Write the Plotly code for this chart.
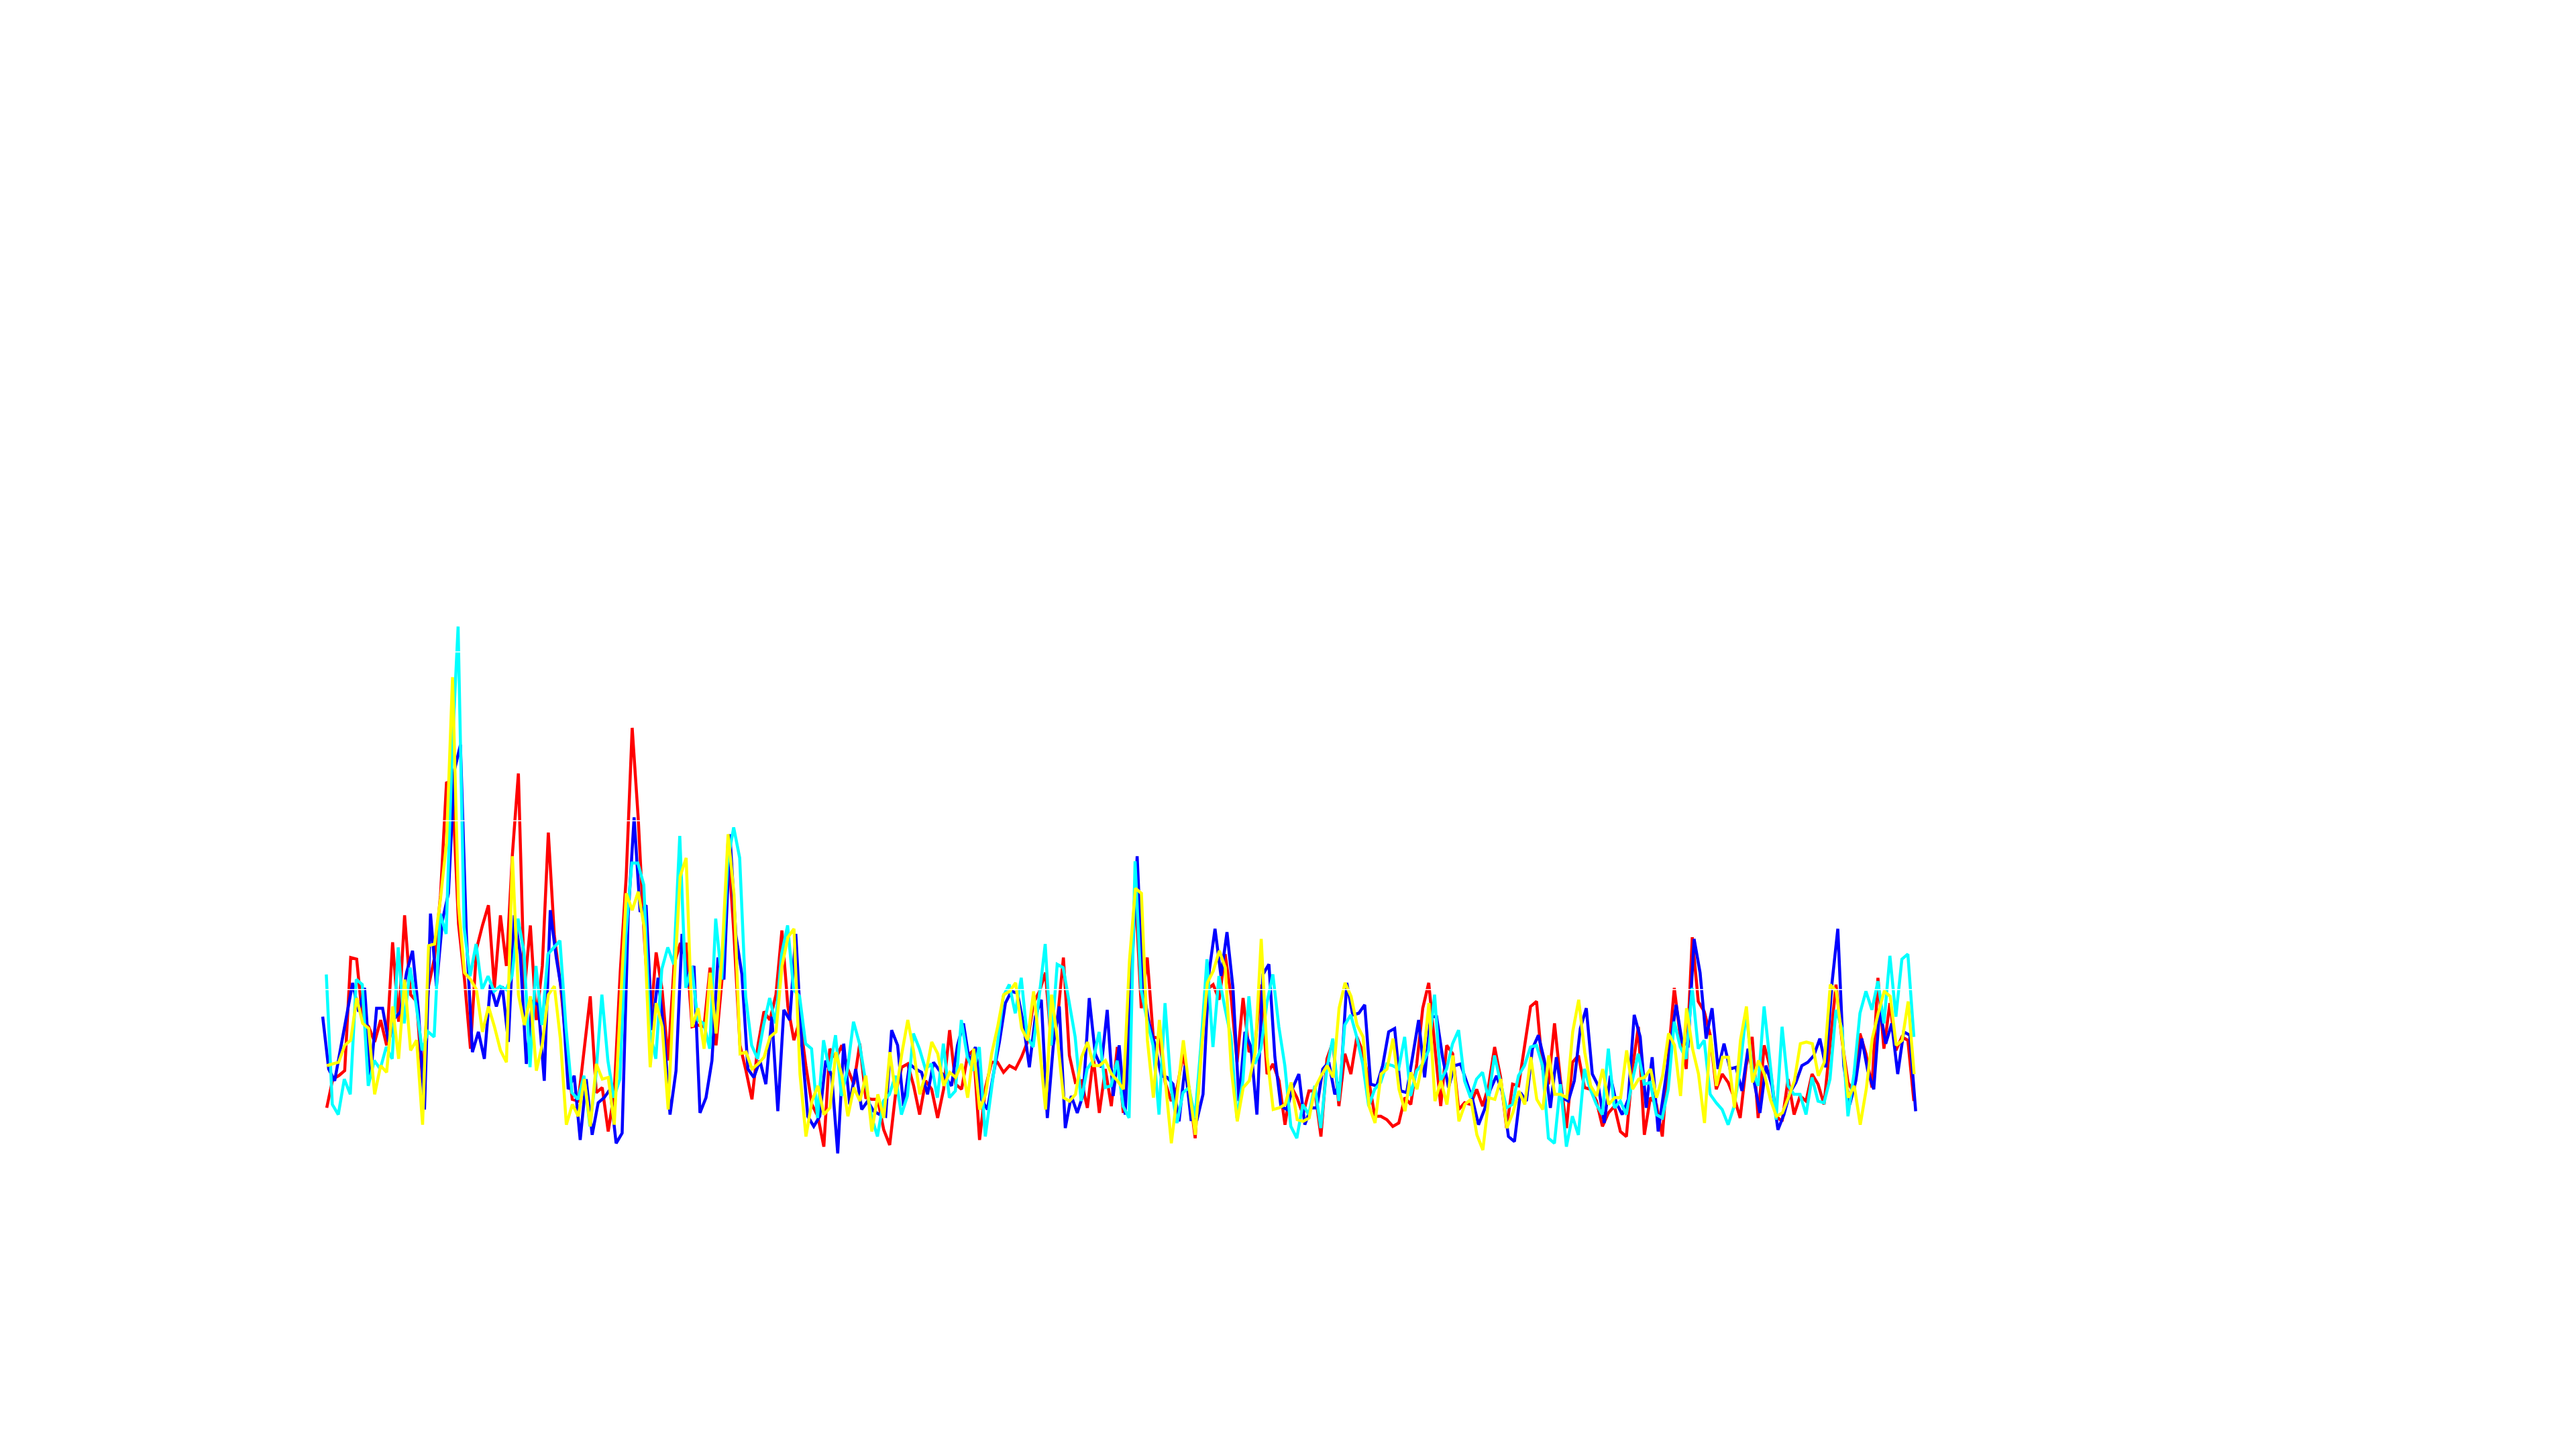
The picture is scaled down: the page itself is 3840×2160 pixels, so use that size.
import numpy as np
import plotly.graph_objects as go

red = [3.0,4.7,4.9,5.2,11.9,11.8,8.2,7.8,6.9,8.2,6.7,12.8,8.1,14.4,9.7,9.3,4.5,10.2,11.9,15.6,22.3,21.9,13.9,10.6,6.5,12.4,13.8,15.0,10.1,14.4,11.4,18.0,22.8,10.0,13.8,8.2,11.4,19.3,13.2,10.4,6.7,3.5,3.4,6.5,9.6,3.9,4.2,1.6,3.9,11.0,16.7,25.5,20.2,13.2,7.8,12.2,10.0,5.8,11.5,12.7,12.7,7.8,7.9,7.8,11.3,6.7,10.6,18.7,13.2,6.7,5.2,
3.5,6.7,8.7,8.2,9.7,13.5,9.0,7.0,8.2,5.5,3.2,2.5,0.7,6.5,5.9,6.7,5.3,4.4,6.8,3.6,3.5,3.5,1.7,0.8,3.9,5.4,5.6,4.3,2.6,4.6,4.1,2.4,4.1,7.6,4.4,4.1,6.1,6.4,1.1,4.2,5.7,5.7,5.1,5.5,5.3,6.0,6.9,9.2,9.9,11.0,6.7,8.2,11.9,6.1,4.5,4.6,3.0,6.0,2.7,5.3,3.1,6.6,2.7,10.0,16.0,8.9,11.9,7.2,7.1,4.5,
3.4,4.2,6.2,4.1,1.2,6.6,10.0,10.3,9.4,12.1,9.6,5.7,9.5,6.3,6.7,10.3,5.0,5.6,4.6,2.0,4.3,3.6,2.6,4.0,4.0,1.3,5.9,6.9,3.1,6.2,5.0,7.2,6.3,4.6,2.5,2.5,2.3,1.9,2.1,3.6,3.2,5.6,8.9,10.4,6.7,3.1,6.7,6.2,2.9,3.3,3.2,4.1,3.1,4.3,6.6,4.8,1.8,4.4,4.3,6.6,9.0,9.3,5.3,4.4,8.0,4.6,1.8,5.7,6.1,4.2,4.1,
3.4,1.9,2.7,3.1,1.6,1.3,5.3,7.8,1.4,3.6,3.2,1.3,6.0,10.1,7.2,5.3,13.1,9.3,8.7,7.3,4.1,5.0,4.5,3.6,2.4,5.5,7.2,2.4,6.7,5.4,2.5,2.2,4.7,2.6,3.7,3.4,5.0,4.4,3.2,6.7,10.3,7.0,4.5,3.9,7.4,6.2,4.2,10.7,6.5,9.2,6.4,7.2,7.0,3.4]

blue = [8.4,5.3,4.6,6.5,8.3,10.4,8.7,10.1,4.8,8.9,8.9,6.9,8.3,8.7,11.0,12.3,8.7,2.9,14.5,10.2,14.1,15.7,23.0,24.5,13.2,6.3,7.5,5.9,10.3,9.0,10.2,6.9,14.4,12.1,5.6,9.3,9.1,4.6,14.7,11.9,9.7,4.1,4.9,1.1,4.7,1.4,3.3,3.6,4.1,0.9,1.5,14.3,20.2,14.6,15.0,7.6,10.7,7.4,2.6,5.2,13.3,10.2,11.4,2.7,3.6,5.8,11.9,10.6,19.2,13.2,
10.9,5.3,4.8,5.8,4.4,8.4,2.8,8.8,8.2,13.3,6.7,2.5,1.9,2.5,5.8,4.9,0.3,6.8,3.2,5.3,2.9,3.4,2.8,2.6,2.5,7.6,6.7,3.1,5.6,5.3,5.1,3.8,5.7,5.2,4.8,4.3,6.7,8.0,5.7,6.6,3.5,2.9,5.0,6.9,9.2,9.9,9.8,8.0,5.4,8.4,9.4,2.4,6.7,9.0,1.8,3.7,2.7,3.8,9.5,6.2,5.4,8.8,3.7,6.7,2.6,10.0,17.9,10.0,8.0,6.7,4.9,
4.8,4.4,2.2,5.5,2.3,2.3,3.8,11.0,13.6,10.8,13.4,10.1,3.4,7.5,6.6,2.6,10.9,11.5,6.0,3.1,2.9,4.2,5.0,2.0,3.0,3.0,5.3,5.7,3.8,4.6,10.4,8.5,8.6,9.1,4.4,4.3,5.5,7.5,7.7,4.0,3.9,6.0,8.2,4.8,8.4,8.4,6.0,4.2,5.5,5.6,4.5,3.5,2.0,2.9,4.1,4.9,3.9,1.3,1.0,3.9,3.4,6.5,7.3,5.8,3.0,6.0,3.6,3.4,4.6,7.7,8.9,5.0,
4.3,2.1,4.9,3.3,2.6,3.5,8.5,7.2,3.0,6.0,1.6,4.2,6.7,9.1,6.9,6.7,13.0,11.0,7.1,8.9,5.3,6.8,5.3,5.4,4.0,6.5,4.6,2.7,5.5,4.3,1.7,2.6,3.9,4.5,5.5,5.7,6.1,7.1,5.4,10.3,13.6,5.5,3.2,4.6,7.1,5.2,4.1,8.9,6.8,8.0,5.0,7.5,7.3,2.8]

cyan = [10.9,3.2,2.6,4.7,3.8,10.6,10.3,4.3,5.8,5.3,6.6,5.9,12.5,8.0,11.3,9.1,6.4,7.5,7.2,14.5,13.3,24.1,31.5,13.7,10.8,12.7,10.0,10.8,9.9,10.2,10.0,10.8,14.2,12.2,5.4,11.4,7.9,12.1,12.5,12.9,7.8,3.9,3.5,4.9,1.9,4.9,9.7,5.8,3.6,4.7,13.2,17.5,17.5,16.2,7.6,5.9,11.2,12.5,11.5,19.1,10.1,11.4,8.2,8.0,6.5,14.2,10.6,17.6,19.6,17.8,
9.6,6.7,5.9,7.9,9.5,8.0,12.1,13.8,10.0,9.6,6.8,6.5,2.4,7.0,5.2,7.3,3.7,5.3,8.1,6.8,4.6,2.5,1.3,3.4,3.8,4.9,2.6,3.7,7.4,6.5,5.3,5.6,3.6,6.8,3.6,4.0,8.2,6.0,5.2,6.6,1.3,3.9,6.7,9.6,10.3,8.6,10.7,7.2,6.6,9.6,12.7,6.7,11.5,11.3,9.2,7.2,3.4,5.3,5.8,7.5,4.2,4.3,5.8,3.1,2.4,17.6,10.0,8.2,6.7,2.6,9.2,
4.2,2.1,3.9,4.2,2.4,6.7,11.8,6.6,10.8,8.9,7.2,2.4,4.6,9.6,5.6,6.5,9.2,10.9,7.8,5.5,1.9,1.2,3.2,2.6,4.3,1.8,5.3,7.1,3.4,7.9,8.5,7.2,5.6,3.1,4.1,4.5,5.6,5.5,5.3,7.2,3.7,5.2,5.6,6.4,9.7,4.6,5.3,6.8,7.6,4.6,3.6,4.7,5.1,3.5,6.1,4.5,3.0,3.2,4.9,5.5,6.6,6.7,5.5,1.2,0.9,4.4,0.7,2.5,1.4,5.3,4.1,3.2,
2.6,6.5,3.0,3.4,2.6,4.6,6.2,4.4,4.5,2.6,2.4,4.1,8.1,6.6,5.9,10.1,6.5,7.0,3.8,3.3,2.9,2.0,3.1,5.3,8.7,5.3,4.3,9.0,5.5,2.3,7.8,4.3,3.8,3.8,2.6,4.8,3.4,3.3,4.7,8.8,7.7,2.5,5.0,8.6,9.9,8.8,10.5,8.0,12.0,8.4,11.8,12.1,7.2]

yellow = [5.5,5.6,5.7,6.7,7.0,9.5,8.0,7.7,3.8,5.5,5.1,9.0,5.9,10.6,6.4,7.0,2.0,12.6,12.7,15.4,18.7,28.5,15.0,11.0,10.6,10.0,7.5,9.0,7.8,6.4,5.7,17.9,9.7,7.9,9.6,5.2,6.8,9.7,10.2,7.1,2.0,3.2,2.5,4.7,1.9,5.6,4.7,4.8,2.0,8.9,15.7,14.7,15.8,13.7,5.4,9.2,7.8,2.9,10.4,16.7,17.8,7.8,8.9,6.5,11.0,7.4,12.1,19.2,15.6,
6.2,6.3,5.3,5.6,6.0,7.2,7.5,11.4,13.1,13.6,5.0,1.3,3.4,4.3,2.6,3.0,6.3,4.9,2.5,4.2,3.4,4.9,1.6,3.8,2.4,6.3,3.8,6.2,8.2,6.3,3.8,5.0,6.9,6.2,4.3,5.1,4.8,5.6,3.6,6.5,2.9,3.8,6.2,7.8,9.7,9.9,10.4,7.7,7.0,9.9,6.6,2.9,9.7,7.0,3.6,3.4,3.8,6.0,6.9,5.5,5.5,5.8,5.0,4.6,4.1,11.7,16.0,15.7,7.0,3.6,8.2,4.4,
0.9,3.9,7.0,4.1,1.4,6.3,10.4,11.1,12.3,11.3,5.3,2.2,4.2,4.6,6.3,13.0,6.0,2.9,3.0,3.2,4.5,2.3,2.2,2.4,4.2,4.9,5.5,4.8,8.9,10.4,9.6,7.9,7.2,3.1,2.1,5.0,5.3,7.1,4.1,2.8,5.1,4.1,5.8,9.2,3.4,4.6,3.2,6.1,2.2,3.2,3.5,1.4,0.5,3.6,3.5,4.7,1.8,2.7,4.0,3.2,6.0,3.5,2.9,6.1,3.8,3.8,3.6,7.5,9.4,6.3,4.3,
3.7,5.3,3.2,3.6,3.6,6.4,4.1,4.7,4.8,5.3,3.6,4.9,7.4,6.7,3.7,8.9,6.5,5.0,2.1,7.3,4.3,6.0,6.0,3.0,7.0,9.0,4.5,5.8,5.0,3.5,2.5,2.7,3.6,4.6,6.8,6.9,6.8,4.9,5.7,10.3,9.9,7.0,3.6,4.3,2.0,4.1,7.1,8.6,9.9,9.6,6.7,7.0,9.3,5.0]

grid_values = [10, 20, 30]
series = [("red", red, "#ff0000", 0.67, 264.1), ("blue", blue, "#0000ff", 0.0, 264.4),
          ("cyan", cyan, "#00ffff", 0.6, 264.1), ("yellow", yellow, "#ffff00", 0.67, 264.15)]

fig = go.Figure()
for name, vals, col, first, last in series:
    fig.add_trace(go.Scatter(x=np.linspace(first, last, len(vals)), y=vals, mode="lines", name=name,
                             line=dict(color=col, width=4.5), hoverinfo="skip"))
for g in grid_values:
    fig.add_shape(type="line", xref="paper", x0=0, x1=1, yref="y", y0=g, y1=g,
                  line=dict(color="white", width=1.5), layer="above")
fig.update_layout(width=3840, height=2160, margin=dict(l=0, r=0, t=0, b=0), showlegend=False,
                  paper_bgcolor="white", plot_bgcolor="white",
                  xaxis=dict(range=[-52.67, 374.89], visible=False),
                  yaxis=dict(range=[-17.52, 68.28], visible=False))
fig.write_html("out.html")
